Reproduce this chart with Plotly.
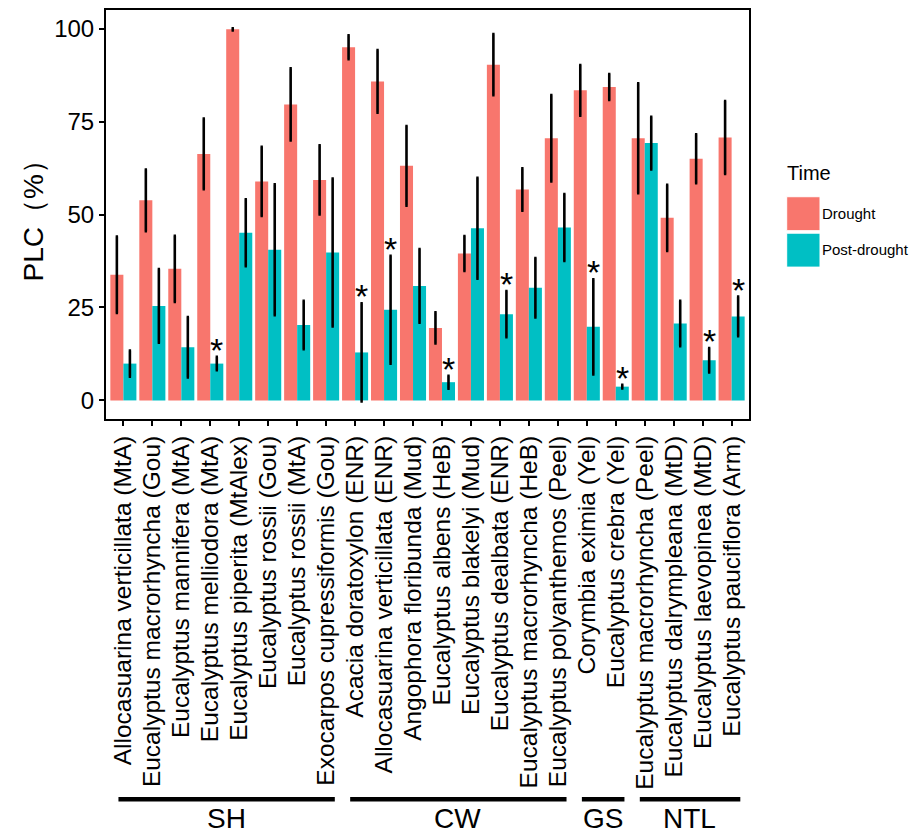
import plotly.graph_objects as go

species = [
    "Allocasuarina verticillata (MtA)",
    "Eucalyptus macrorhyncha (Gou)",
    "Eucalyptus mannifera (MtA)",
    "Eucalyptus melliodora (MtA)",
    "Eucalyptus piperita (MtAlex)",
    "Eucalyptus rossii (Gou)",
    "Eucalyptus rossii (MtA)",
    "Exocarpos cupressiformis (Gou)",
    "Acacia doratoxylon (ENR)",
    "Allocasuarina verticillata (ENR)",
    "Angophora floribunda (Mud)",
    "Eucalyptus albens (HeB)",
    "Eucalyptus blakelyi (Mud)",
    "Eucalyptus dealbata (ENR)",
    "Eucalyptus macrorhyncha (HeB)",
    "Eucalyptus polyanthemos (Peel)",
    "Corymbia eximia (Yel)",
    "Eucalyptus crebra (Yel)",
    "Eucalyptus macrorhyncha (Peel)",
    "Eucalyptus dalrympleana (MtD)",
    "Eucalyptus laevopinea (MtD)",
    "Eucalyptus pauciflora (Arm)",
]
drought = [33.8, 53.8, 35.4, 66.3, 99.8, 58.9, 79.6, 59.3, 95.0, 85.8, 63.1,
           19.5, 39.5, 90.3, 56.7, 70.5, 83.4, 84.3, 70.5, 49.1, 65.0, 70.7]
drought_err = [10.3, 8.3, 8.9, 9.5, 0.3, 9.3, 9.7, 9.3, 3.2, 8.4, 10.7,
               4.2, 4.7, 8.2, 5.7, 11.6, 6.8, 3.5, 14.8, 8.9, 6.6, 9.8]
post = [9.9, 25.4, 14.3, 9.9, 45.1, 40.5, 20.3, 39.8, 12.9, 24.4, 30.8,
        4.9, 46.3, 23.2, 30.3, 46.5, 19.8, 3.7, 69.2, 20.7, 10.8, 22.6]
post_err = [3.5, 9.9, 8.1, 1.8, 9.0, 17.6, 6.5, 19.9, 13.2, 14.5, 9.9,
            1.75, 13.6, 6.2, 8.0, 9.0, 12.8, 0.5, 7.1, 6.1, 3.3, 5.3]
significant = [3, 8, 9, 11, 13, 16, 17, 20, 21]
group_names = ["SH", "CW", "GS", "NTL"]
group_first = [0, 8, 16, 18]
group_last = [7, 15, 17, 21]
y_ticks = [0, 25, 50, 75, 100]
series_names = ["Drought", "Post-drought"]

FONT = "Liberation Sans, Arial, Helvetica, sans-serif"
RED = "#F8766D"
TEAL = "#00BFC4"
xs = list(range(len(species)))

fig = go.Figure()
for name, vals, errs, col in [(series_names[0], drought, drought_err, RED),
                              (series_names[1], post, post_err, TEAL)]:
    fig.add_trace(go.Bar(
        x=xs, y=vals, name=name, marker=dict(color=col, line=dict(width=0)),
        error_y=dict(type="data", array=errs, visible=True, color="black",
                     thickness=2.6, width=1.2),
        showlegend=False,
    ))

annotations = []
for i in significant:
    annotations.append(dict(
        x=i + 0.225, y=post[i] + post_err[i], xref="x", yref="y",
        text="*", showarrow=False, yanchor="bottom", yshift=-14,
        font=dict(size=34, color="black", family=FONT)))

# page is offset by the 8px body margin; panel in page px: x 106..749, y 9.7..419.3
W, H = 643.0, 409.6
def px(xp):
    return (xp - 106) / W
def py(yp):
    return (419.3 - yp) / H

shapes = []
for name, a, b in zip(group_names, group_first, group_last):
    shapes.append(dict(type="line", xref="x", yref="paper",
                       x0=a - 0.17, x1=b + 0.3, y0=py(800), y1=py(800),
                       line=dict(color="black", width=4.5)))
    annotations.append(dict(x=(a + b) / 2 + 0.05, y=py(819), xref="x", yref="paper",
                            text=name, showarrow=False, yanchor="middle",
                            font=dict(size=28, color="black", family=FONT)))

# y title
annotations.append(dict(x=px(33), y=0.5, xref="paper", yref="paper",
                        text="PLC（%）", textangle=-90, showarrow=False,
                        xanchor="center", yanchor="middle",
                        font=dict(size=28, color="black", family=FONT)))

# manual legend
annotations.append(dict(x=px(785), y=py(173), xref="paper", yref="paper",
                        text="Time", showarrow=False, xanchor="left", yanchor="middle",
                        font=dict(size=20, color="black", family=FONT)))
for k, (nm, col) in enumerate(zip(series_names, [RED, TEAL])):
    y0 = 196.7 + k * 36.5
    shapes.append(dict(type="rect", xref="paper", yref="paper",
                       x0=px(786.7), x1=px(820), y0=py(y0 + 34), y1=py(y0),
                       fillcolor=col, line=dict(color="white", width=1)))
    annotations.append(dict(x=px(820), y=py(y0 + 16.5), xref="paper", yref="paper",
                            text=nm, showarrow=False, xanchor="left", yanchor="middle",
                            font=dict(size=15, color="black", family=FONT)))

fig.update_layout(
    width=902, height=828,
    margin=dict(l=98, r=161, t=2, b=417, pad=0, autoexpand=False),
    paper_bgcolor="white", plot_bgcolor="white",
    barmode="group", bargap=0.1, bargroupgap=0,
    font=dict(family=FONT, color="black"),
    shapes=shapes, annotations=annotations,
    showlegend=False,
)
fig.update_xaxes(
    range=[-0.6, len(species) - 0.4], tickmode="array", tickvals=xs, ticktext=species,
    tickangle=-90, ticks="outside", ticklen=5, tickwidth=1.5, tickcolor="black",
    tickfont=dict(size=24.5, color="black", family=FONT),
    showgrid=False, zeroline=False, automargin=False,
    showline=True, linecolor="black", linewidth=2, mirror=True,
)
fig.update_yaxes(
    range=[-5, 105], tickmode="array", tickvals=y_ticks,
    ticks="outside", ticklen=5, tickwidth=1.5, tickcolor="black",
    tickfont=dict(size=24, color="black", family=FONT),
    showgrid=False, zeroline=False, automargin=False,
    showline=True, linecolor="black", linewidth=2, mirror=True,
)
fig.write_html("out.html")
